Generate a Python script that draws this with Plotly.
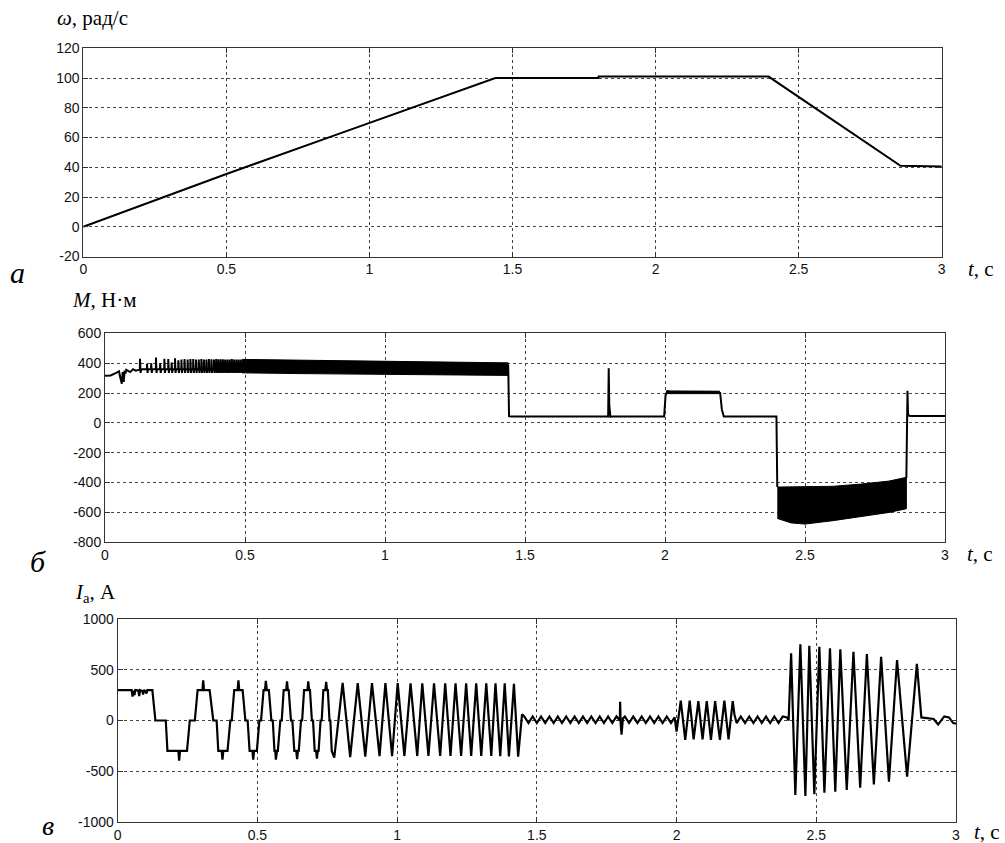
import plotly.graph_objects as go

# ================= DATA =================
# Panel a: rotor speed omega, rad/s
speed_t = [0, 0.25, 0.5, 0.9, 1.44, 1.80, 1.801, 2.395, 2.856, 3.0]
speed_v = [0, 18, 35.5, 63, 100, 100, 101, 101, 41, 40.5]

# Panel б: electromagnetic torque M, N·m
torque_start_t = [0, 0.02, 0.04, 0.05, 0.055, 0.06, 0.063, 0.067, 0.070, 0.073, 0.076, 0.08, 0.09, 0.10, 0.11, 0.12]
torque_start_v = [315, 318, 335, 345, 300, 262, 340, 275, 350, 330, 355, 350, 340, 360, 350, 355]
torque_spike_t = [0.125, 0.15, 0.165, 0.182, 0.197, 0.212, 0.226, 0.238, 0.25, 0.262, 0.273, 0.284,
                  0.295, 0.305, 0.315, 0.325, 0.335, 0.344, 0.353, 0.362, 0.371, 0.38, 0.389, 0.397,
                  0.405, 0.413, 0.421, 0.429, 0.437, 0.445, 0.453, 0.461, 0.469, 0.477, 0.485, 0.493]
torque_spike_top = [430, 395, 400, 438, 400, 430, 428, 405, 432, 420, 425, 428,
                    425, 428, 428, 425, 425, 428, 425, 425, 428, 426, 425, 428,
                    426, 426, 426, 425, 425, 425, 428, 425, 425, 425, 425, 425]
torque_spike_low = 335
torque_spike_base = 360
# dense ripple band 1 (motoring)
band1_t = [0.49, 0.7, 1.0, 1.2, 1.44]
band1_hi = [425, 420, 412, 408, 402]
band1_lo = [335, 330, 325, 320, 318]
# steady parts between bands
torque_mid_t = [1.44, 1.443, 1.45, 1.797, 1.799, 1.801, 1.805, 1.81, 1.997, 2.002, 2.008, 2.02, 2.19, 2.197, 2.203, 2.21, 2.398, 2.400, 2.401]
torque_mid_v = [390, 45, 42, 42, 365, 120, 40, 42, 42, 185, 212, 205, 205, 200, 90, 42, 42, -300, -430]
# plateau 2.0..2.2 thickness
plat_t = [2.005, 2.1, 2.195]
plat_hi = [214, 212, 212]
plat_lo = [196, 196, 196]
# dense ripple band 2 (braking)
band2_t = [2.401, 2.45, 2.5, 2.6, 2.7, 2.8, 2.862]
band2_hi = [-430, -430, -428, -425, -410, -390, -365]
band2_lo = [-640, -670, -678, -655, -630, -600, -575]
torque_end_t = [2.862, 2.866, 2.868, 2.872, 2.88, 3.0]
torque_end_v = [-370, 215, 60, 48, 46, 46]

# Panel в: phase current Ia, A
cur_start_t = [
    0, 0.05, 0.053, 0.056, 0.06, 0.063, 0.074, 0.077, 0.08, 0.088, 0.091, 0.094, 0.10, 0.103, 0.106,
    0.124, 0.135, 0.172, 0.178, 0.217, 0.22, 0.223, 0.248, 0.258, 0.276, 0.286, 0.303, 0.306, 0.309,
    0.329, 0.342, 0.354, 0.36, 0.372, 0.375, 0.378, 0.393, 0.403, 0.408, 0.417, 0.429, 0.432, 0.435,
    0.447, 0.457, 0.465, 0.472, 0.482, 0.485, 0.488, 0.498, 0.507, 0.513, 0.522, 0.527, 0.530, 0.534,
    0.541, 0.550, 0.555, 0.561, 0.564, 0.566, 0.570, 0.573, 0.582, 0.587, 0.594, 0.603, 0.606, 0.609, 0.612,
    0.620, 0.625, 0.632, 0.639, 0.642, 0.645, 0.648, 0.656, 0.660, 0.667, 0.679, 0.682, 0.685, 0.688,
    0.695, 0.699, 0.705, 0.710, 0.713, 0.716, 0.719, 0.726, 0.730, 0.736, 0.743, 0.746, 0.749, 0.752,
    0.758, 0.761, 0.766]
cur_start_v = [
    300, 300, 235, 295, 250, 300, 295, 240, 300, 290, 255, 300, 285, 265, 300,
    300, 0, 0, -300, -300, -395, -300, -300, 0, 0, 300, 300, 395, 300,
    300, 0, 0, -300, -300, -385, -300, -300, 0, 0, 300, 300, 395, 300,
    300, 0, 0, -300, -300, -385, -300, -300, 0, 0, 300, 300, 390, 300,
    300, 0, 0, -300, -300, -385, -300, -300, 0, 0, 300, 300, 385, 300, 300,
    0, 0, -300, -300, -380, -300, -300, 0, 0, 300, 300, 385, 300, 300,
    0, 0, -300, -300, -375, -300, -300, 0, 0, 300, 300, 380, 300, 300,
    0, 0, -300]
cur_peak_t = [0.805, 0.859, 0.910, 0.958, 1.002, 1.048, 1.090, 1.132, 1.172,
              1.209, 1.247, 1.283, 1.319, 1.352, 1.385, 1.418]
cur_peak_v = [370, 368, 368, 368, 368, 366, 366, 366, 366, 366, 366, 366, 366, 366, 366, 362]
cur_trough_t = [0.775, 0.832, 0.886, 0.937, 0.982, 1.026, 1.072, 1.112, 1.154,
                1.191, 1.229, 1.265, 1.301, 1.337, 1.369, 1.400, 1.433]
cur_trough_v = [-365, -360, -355, -352, -352, -350, -350, -350, -350,
                -350, -350, -350, -350, -350, -352, -355, -357]
ripple1_t = [1.447, 1.455, 1.470, 1.485, 1.500, 1.515, 1.530, 1.545, 1.560, 1.575, 1.590, 1.605, 1.620,
             1.635, 1.650, 1.665, 1.680, 1.695, 1.710, 1.725, 1.740, 1.755, 1.770, 1.785,
             1.797, 1.798, 1.800, 1.803, 1.808, 1.815, 1.830, 1.845, 1.860, 1.875, 1.890, 1.905,
             1.920, 1.935, 1.950, 1.965, 1.980, 1.993, 2.000]
ripple1_v = [60, 40, -25, 40, -25, 40, -25, 40, -25, 40, -25, 40, -25,
             40, -25, 40, -25, 40, -25, 40, -25, 40, -25, 40,
             0, 185, -30, -140, 20, 40, -25, 40, -25, 40, -25, 40,
             -25, 40, -25, 40, -25, 30, -110]
burst1_peak_t = [2.015, 2.047, 2.078, 2.108, 2.138, 2.171, 2.201]
burst1_peak_v = [195, 195, 190, 190, 190, 195, 190]
burst1_trough_t = [2.031, 2.061, 2.093, 2.123, 2.155, 2.186]
burst1_trough_v = [-190, -185, -185, -190, -190, -185]
ripple2_t = [2.207, 2.215, 2.230, 2.245, 2.260, 2.275, 2.290, 2.305, 2.320, 2.335, 2.350, 2.365, 2.380, 2.395, 2.401]
ripple2_v = [60, -25, 40, -25, 40, -25, 40, -25, 40, -25, 40, -25, 40, 30, 0]
burst2_peak_t = [2.410, 2.443, 2.475, 2.511, 2.549, 2.586, 2.633, 2.681, 2.732, 2.789, 2.860]
burst2_peak_v = [662, 751, 737, 727, 711, 701, 678, 655, 628, 596, 557]
burst2_trough_t = [2.425, 2.461, 2.493, 2.529, 2.568, 2.609, 2.657, 2.706, 2.760, 2.825]
burst2_trough_v = [-734, -744, -727, -711, -701, -685, -662, -629, -603, -554]
cur_end_t = [2.876, 2.90, 2.92, 2.936, 2.958, 2.975, 2.99, 3.0]
cur_end_v = [30, 20, 15, -40, 40, 30, -25, -30]

x_ticks = [0, 0.5, 1, 1.5, 2, 2.5, 3]
x_tick_text = ["0", "0.5", "1", "1.5", "2", "2.5", "3"]
speed_ticks = [-20, 0, 20, 40, 60, 80, 100, 120]
torque_ticks = [-800, -600, -400, -200, 0, 200, 400, 600]
current_ticks = [-1000, -500, 0, 500, 1000]

# ================= BUILD =================
W, H = 1005, 843
assert len(cur_start_t) == len(cur_start_v)
assert len(ripple1_t) == len(ripple1_v) and len(ripple2_t) == len(ripple2_v)


def merge(*pairs):
    pts = []
    for t, v in pairs:
        pts += list(zip(t, v))
    pts.sort(key=lambda p: p[0])
    return [p[0] for p in pts], [p[1] for p in pts]


# torque early section with spikes
tq_t = list(torque_start_t)
tq_v = list(torque_start_v)
for t, top in zip(torque_spike_t, torque_spike_top):
    tq_t += [t - 0.0005, t, t + 0.002, t + 0.004]
    tq_v += [torque_spike_base, top, torque_spike_low, torque_spike_base]

cur_t, cur_v = merge((cur_peak_t, cur_peak_v), (cur_trough_t, cur_trough_v))
b1_t, b1_v = merge((burst1_peak_t, burst1_peak_v), (burst1_trough_t, burst1_trough_v))
b2_t, b2_v = merge((burst2_peak_t, burst2_peak_v), (burst2_trough_t, burst2_trough_v))
current_t = cur_start_t + cur_t + ripple1_t + b1_t + ripple2_t + b2_t + cur_end_t
current_v = cur_start_v + cur_v + ripple1_v + b1_v + ripple2_v + b2_v + cur_end_v

LINE = dict(color="black", width=2)
fig = go.Figure()

fig.add_trace(go.Scatter(x=speed_t, y=speed_v, mode="lines", line=LINE, xaxis="x", yaxis="y"))

fig.add_trace(go.Scatter(x=tq_t, y=tq_v, mode="lines", line=LINE, xaxis="x2", yaxis="y2"))
fig.add_trace(go.Scatter(x=band1_t + band1_t[::-1], y=band1_hi + band1_lo[::-1], mode="lines",
                         fill="toself", fillcolor="black", line=dict(color="black", width=1),
                         xaxis="x2", yaxis="y2"))
fig.add_trace(go.Scatter(x=torque_mid_t, y=torque_mid_v, mode="lines", line=LINE, xaxis="x2", yaxis="y2"))
fig.add_trace(go.Scatter(x=plat_t + plat_t[::-1], y=plat_hi + plat_lo[::-1], mode="lines",
                         fill="toself", fillcolor="black", line=dict(color="black", width=1),
                         xaxis="x2", yaxis="y2"))
fig.add_trace(go.Scatter(x=band2_t + band2_t[::-1], y=band2_hi + band2_lo[::-1], mode="lines",
                         fill="toself", fillcolor="black", line=dict(color="black", width=1),
                         xaxis="x2", yaxis="y2"))
fig.add_trace(go.Scatter(x=torque_end_t, y=torque_end_v, mode="lines", line=LINE, xaxis="x2", yaxis="y2"))

fig.add_trace(go.Scatter(x=current_t, y=current_v, mode="lines", line=dict(color="black", width=2.2),
                         xaxis="x3", yaxis="y3"))

TICKFONT = dict(family="Liberation Sans, Arial, sans-serif", size=14, color="#111")


def common():
    return dict(showline=True, linecolor="#333", linewidth=1, mirror="ticks",
                ticks="inside", ticklen=5, tickcolor="#333",
                showgrid=True, gridcolor="#444", gridwidth=1, griddash="3px,3px",
                zeroline=False, tickfont=TICKFONT, fixedrange=True, automargin=False)


def xax(domain, anchor):
    d = common()
    d.update(domain=domain, anchor=anchor, range=[0, 3], tickvals=x_ticks, ticktext=x_tick_text)
    return d


def yax(domain, anchor, rng, ticks):
    d = common()
    d.update(domain=domain, anchor=anchor, range=rng, tickvals=ticks,
             ticktext=[str(v) for v in ticks])
    return d


def px(x):
    return x / W


def py(y):
    return 1 - y / H


fig.update_layout(
    width=W, height=H, margin=dict(l=0, r=0, t=0, b=0, autoexpand=False),
    paper_bgcolor="white", plot_bgcolor="white", showlegend=False,
    xaxis=xax([px(83.3), px(941.7)], "y"),
    yaxis=yax([py(256.5), py(48.3)], "x", [-20, 120], speed_ticks),
    xaxis2=xax([px(105), px(945)], "y2"),
    yaxis2=yax([py(542.3), py(333.3)], "x2", [-800, 600], torque_ticks),
    xaxis3=xax([px(117.7), px(956)], "y3"),
    yaxis3=yax([py(822), py(619)], "x3", [-1000, 1000], current_ticks),
)

SERIF = "Liberation Serif, Times New Roman, serif"
labels = [
    ("<i>ω</i>, рад/с", 55, 18, 21, "middle"),
    ("<i>M</i>, Н·м", 70, 300, 21, "middle"),
    ("<i>I</i><sub>a</sub>, А", 73, 593, 21, "middle"),
    ("<i>t</i>, с", 966, 269, 21, "middle"),
    ("<i>t</i>, с", 965, 554, 21, "middle"),
    ("<i>t</i>, с", 972, 832, 21, "middle"),
    ("<i>а</i>", 8, 272, 30, "middle"),
    ("<i>б</i>", 28, 561, 30, "middle"),
    ("<i>в</i>", 40, 843, 28, "bottom"),
]
for text, x, y, size, ya in labels:
    fig.add_annotation(text=text, x=px(x), y=py(y), xref="paper", yref="paper",
                       xanchor="left", yanchor=ya, showarrow=False,
                       font=dict(family=SERIF, size=size, color="black"))

fig.write_html("out.html", config={"displayModeBar": False},
               post_script="document.body.style.margin='0';document.body.style.padding='0';")
